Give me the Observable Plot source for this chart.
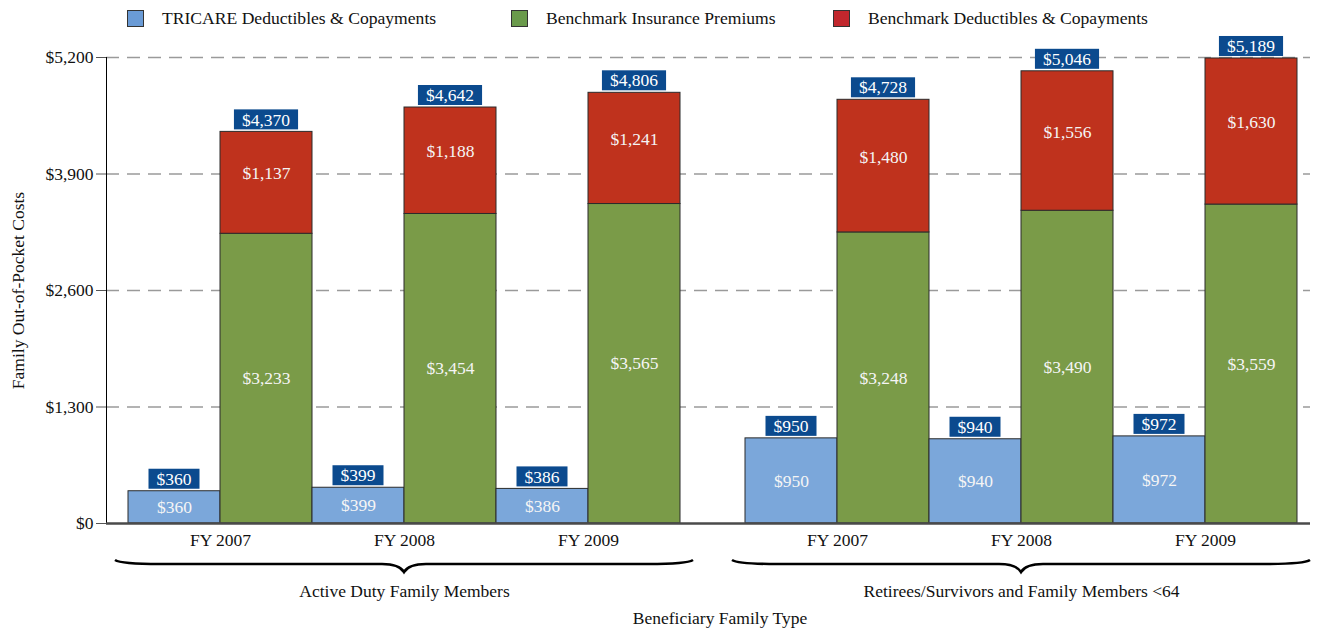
<!DOCTYPE html>
<html><head><meta charset="utf-8">
<script src="https://cdn.jsdelivr.net/npm/d3@7"></script>
<script src="https://cdn.jsdelivr.net/npm/@observablehq/plot@0.6"></script>
<style>
body{margin:0;background:#fff;font-family:"Liberation Serif",serif;}
#legend{position:relative;height:36px;width:1322px;}
.item{position:absolute;top:0;height:37px;display:flex;align-items:center;font-size:17.6px;color:#111;white-space:nowrap;}
.sw{width:15px;height:15px;border:1px solid #333;margin-right:18px;}
</style></head><body>
<div id="legend"></div>
<script>
const groups = ["Active Duty Family Members", "Retirees/Survivors and Family Members <64"];
const years = ["FY 2007", "FY 2008", "FY 2009"];
const series = ["TRICARE Deductibles & Copayments", "Benchmark Insurance Premiums", "Benchmark Deductibles & Copayments"];
const tricare = [[360, 399, 386], [950, 940, 972]];
const premiums = [[3233, 3454, 3565], [3248, 3490, 3559]];
const deductibles = [[1137, 1188, 1241], [1480, 1556, 1630]];
const yTicks = [0, 1300, 2600, 3900, 5200];
const barColors = ["#7ba7da", "#7a9b48", "#bf321d"];
const legendColors = ["#6a9bd6", "#6a9a4b", "#c1272d"];
const axisTitleX = "Beneficiary Family Type";
const axisTitleY = "Family Out-of-Pocket Costs";
const FS = 17.5;

// legend
const legendLeft = [127, 511, 833];
const legend = d3.select("#legend");
series.forEach((s, i) => {
  const it = legend.append("div").attr("class", "item").style("left", legendLeft[i] + "px");
  it.append("div").attr("class", "sw").style("background", legendColors[i]);
  it.append("span").text(s);
});

// derived table
const GAP = 65 / 92;
const slot = (g, j, k) => g * (6 + GAP) + 2 * j + k;
const rows = [], totals = [], yearTicks = [];
groups.forEach((grp, g) => years.forEach((yr, j) => {
  const t = tricare[g][j], p = premiums[g][j], d = deductibles[g][j];
  rows.push({series: series[0], x1: slot(g, j, 0), x2: slot(g, j, 1), y1: 0, y2: t, v: t});
  rows.push({series: series[1], x1: slot(g, j, 1), x2: slot(g, j, 2), y1: 0, y2: p, v: p});
  rows.push({series: series[2], x1: slot(g, j, 1), x2: slot(g, j, 2), y1: p, y2: p + d, v: d});
  totals.push({x: slot(g, j, 0) + 0.5, v: t}, {x: slot(g, j, 1) + 0.5, v: p + d});
  yearTicks.push({x: slot(g, j, 1), label: yr});
}));
const groupSpans = groups.map((name, g) => ({name, x1: slot(g, 0, 0), x2: slot(g, 2, 2), cx: (slot(g, 0, 0) + slot(g, 2, 2)) / 2}));
const fmt = d3.format("$,");

function totalsMark(index, {x, y}) {
  const ctx = document.createElement("canvas").getContext("2d");
  ctx.font = FS + "px 'Liberation Serif'";
  const g = d3.create("svg:g");
  for (const d of totals) {
    const label = fmt(d.v);
    const w = ctx.measureText(label).width + 16;
    const cx = x(d.x), top = y(d.v);
    g.append("rect").attr("x", cx - w / 2).attr("y", top - 22).attr("width", w).attr("height", 20).attr("fill", "#0b4a8e");
    g.append("text").attr("x", cx).attr("y", top - 12).attr("dy", "0.35em").attr("text-anchor", "middle")
      .attr("fill", "#fff").attr("font-size", FS).text(label);
  }
  return g.node();
}

function bracesMark(index, {x, y}) {
  const g = d3.create("svg:g");
  const base = y(0);
  for (const s of groupSpans) {
    const x0 = x(s.x1) - 13, x1 = x(s.x2) + 13, cx = x(s.cx);
    const yE = base + 37, yB = base + 41, yT = base + 49;
    const d = `M${x0},${yE} Q${x0 + 6},${yB} ${x0 + 45},${yB} L${cx - 22},${yB} Q${cx - 5},${yB} ${cx},${yT} Q${cx + 5},${yB} ${cx + 22},${yB} L${x1 - 45},${yB} Q${x1 - 6},${yB} ${x1},${yE}`;
    g.append("path").attr("d", d).attr("fill", "none").attr("stroke", "#000").attr("stroke-width", 2.6);
  }
  return g.node();
}

const chart = Plot.plot({
  width: 1322, height: 595,
  marginLeft: 106, marginRight: 12, marginTop: 21, marginBottom: 108,
  style: {fontFamily: "'Liberation Serif', serif", fontSize: FS + "px", color: "#111", background: "#fff", overflow: "visible"},
  x: {type: "linear", domain: [-22 / 92, 12 + GAP + 13 / 92], axis: null},
  y: {domain: [0, 5200], axis: null},
  color: {domain: series, range: barColors},
  marks: [
    Plot.ruleY(yTicks.filter(d => d > 0), {stroke: "#9a9a9a", strokeDasharray: "13,8", strokeWidth: 1.3}),
    Plot.axisY({ticks: yTicks, tickFormat: fmt, tickSize: 10, tickPadding: 3, fontSize: FS, label: null, stroke: "#555"}),
    Plot.rectY(rows, {x1: "x1", x2: "x2", y1: "y1", y2: "y2", fill: "series", stroke: "#2b2b2b", strokeWidth: 1}),
    Plot.ruleX([-22 / 92], {y1: 0, y2: 5200, stroke: "#000"}),
    Plot.ruleY([0], {stroke: "#4a4a4a", strokeWidth: 2.5}),
    Plot.text(rows.filter(d => d.series !== series[2]), {x: d => (d.x1 + d.x2) / 2, y: d => (d.y1 + d.y2) / 2, text: d => fmt(d.v), fill: "#f5f5f5", fontSize: FS}),
    Plot.text(rows.filter(d => d.series === series[2]), {x: d => (d.x1 + d.x2) / 2, y: d => (d.y1 + d.y2) / 2, text: d => fmt(d.v), fill: "#f5f5f5", fontSize: FS, dy: -9}),
    totalsMark,
    Plot.text(yearTicks, {x: "x", y: 0, dy: 17, text: "label", fill: "#111", fontSize: FS}),
    bracesMark,
    Plot.text(groupSpans, {x: "cx", y: 0, dy: 68, text: "name", fill: "#111", fontSize: FS}),
    Plot.text([axisTitleX], {x: (groupSpans[0].cx + groupSpans[1].cx) / 2, y: 0, dy: 95, dx: 7, text: d => d, fill: "#111", fontSize: FS}),
    Plot.text([axisTitleY], {frameAnchor: "left", textAnchor: "middle", rotate: -90, dx: -88, text: d => d, fill: "#111", fontSize: FS})
  ]
});
document.body.append(chart);
</script></body></html>
